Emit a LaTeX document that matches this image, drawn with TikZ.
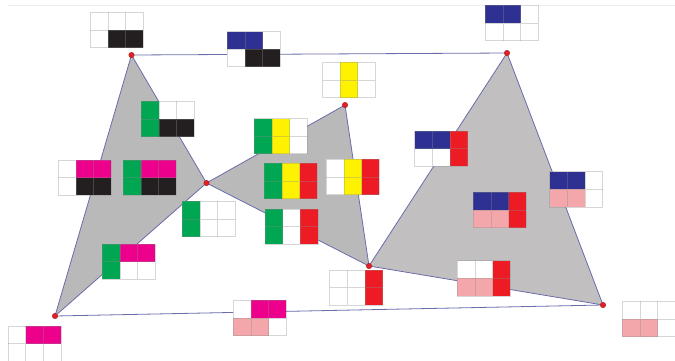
\documentclass[tikz,border=0pt]{standalone}
\usetikzlibrary{calc}
\definecolor{tblue}{HTML}{2E3192}
\definecolor{tblack}{HTML}{231F20}
\definecolor{tgreen}{HTML}{00A651}
\definecolor{tyellow}{HTML}{FFF200}
\definecolor{tred}{HTML}{ED1C24}
\definecolor{tmag}{HTML}{EC008C}
\definecolor{tpink}{HTML}{F4A7AA}
\definecolor{tgrayL}{HTML}{B9B9B9}
\definecolor{tgrayR}{HTML}{C1BFC0}
\definecolor{edgec}{HTML}{6B6CAA}
\definecolor{dotc}{HTML}{E31E26}
\newcommand\cs{17.65}
\newcommand\tile[8]{%
  \begin{scope}[shift={(#1,#2)}]
    \fill[#3] (0,0) rectangle (\cs,\cs);
    \fill[#4] (\cs,0) rectangle (2*\cs,\cs);
    \fill[#5] (2*\cs,0) rectangle (3*\cs,\cs);
    \fill[#6] (0,\cs) rectangle (\cs,2*\cs);
    \fill[#7] (\cs,\cs) rectangle (2*\cs,2*\cs);
    \fill[#8] (2*\cs,\cs) rectangle (3*\cs,2*\cs);
    \draw[cellline] (0,0) rectangle (3*\cs,2*\cs);
    \draw[cellline] (\cs,0) -- (\cs,2*\cs) (2*\cs,0) -- (2*\cs,2*\cs) (0,\cs) -- (3*\cs,\cs);
  \end{scope}}
\begin{document}
\begin{tikzpicture}[x=1pt,y=-1pt,
  cellline/.style={draw=black!45,draw opacity=0.35,line width=0.8pt},
  edge/.style={draw=edgec,line width=0.8pt},
  dot/.style={circle,fill=dotc,draw=dotc!70!black,line width=0.3pt,inner sep=0pt,minimum size=5.5pt}]
\useasboundingbox (0,0) rectangle (675,360);
\fill[white] (0,0) rectangle (675,360);
% faint top rule
\coordinate (t1) at (8,5);
\coordinate (t2) at (675,5);
\draw[black!7,line width=0.8pt] (t1) -- (t2);
% vertices
\coordinate (A) at (131.5,55);
\coordinate (B) at (507,53);
\coordinate (C) at (206.5,183);
\coordinate (D) at (345,105);
\coordinate (E) at (369,266);
\coordinate (F) at (55,316);
\coordinate (G) at (603,305);
% triangles
\fill[tgrayL] (A) -- (C) -- (F) -- cycle;
\fill[tgrayL] (C) -- (D) -- (E) -- cycle;
\fill[tgrayR] (B) -- (E) -- (G) -- cycle;
\draw[edge] (A) -- (C) -- (F) -- cycle;
\draw[edge] (C) -- (D) -- (E) -- cycle;
\draw[edge] (B) -- (E) -- (G) -- cycle;
\draw[edge] (A) -- (B);
\draw[edge] (F) -- (G);
% tiles
\tile{90.3}{12.3}{white}{white}{white}{white}{tblack}{tblack}
\tile{227.3}{31.5}{tblue}{tblue}{white}{white}{tblack}{tblack}
\tile{322.5}{62.3}{white}{tyellow}{white}{white}{tyellow}{white}
\tile{485.3}{5.3}{tblue}{tblue}{white}{white}{white}{white}
\tile{141.3}{101.3}{tgreen}{white}{white}{tgreen}{tblack}{tblack}
\tile{58.3}{160}{white}{tmag}{tmag}{white}{tblack}{tblack}
\tile{123.3}{160}{tgreen}{tmag}{tmag}{tgreen}{tblack}{tblack}
\tile{254.3}{118.5}{tgreen}{tyellow}{white}{tgreen}{tyellow}{white}
\tile{264.3}{163.3}{tgreen}{tyellow}{tred}{tgreen}{tyellow}{tred}
\tile{326.3}{159.3}{white}{tyellow}{tred}{white}{tyellow}{tred}
\tile{182.3}{201.3}{tgreen}{white}{white}{tgreen}{white}{white}
\tile{265}{209}{tgreen}{white}{tred}{tgreen}{white}{tred}
\tile{102.3}{244}{tgreen}{tmag}{tmag}{tgreen}{white}{white}
\tile{8}{326}{white}{tmag}{tmag}{white}{white}{white}
\tile{329.7}{270}{white}{white}{tred}{white}{white}{tred}
\tile{233.3}{300.3}{white}{tmag}{tmag}{tpink}{tpink}{white}
\tile{414.8}{131}{tblue}{tblue}{tred}{white}{white}{tred}
\tile{549.7}{171.7}{tblue}{tblue}{white}{tpink}{tpink}{white}
\tile{473.3}{192.3}{tblue}{tblue}{tred}{tpink}{tpink}{tred}
\tile{457.3}{260.7}{white}{white}{tred}{tpink}{tpink}{tred}
\tile{622.3}{301.3}{white}{white}{white}{tpink}{tpink}{white}
% vertex dots
\foreach \p in {A,B,C,D,E,F,G} \node[dot] (d\p) at (\p) {};
\end{tikzpicture}
\end{document}
